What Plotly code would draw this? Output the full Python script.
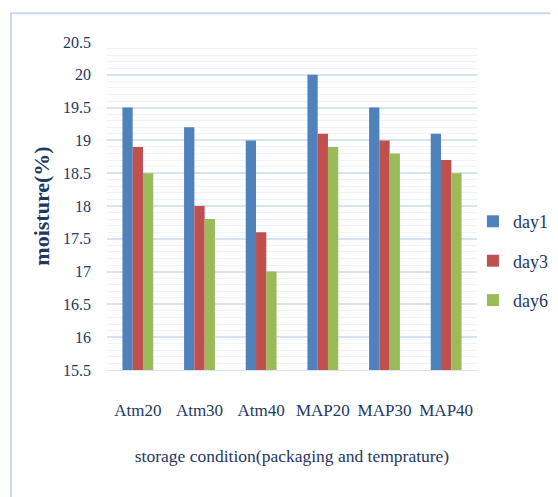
import plotly.graph_objects as go

categories = ["Atm20", "Atm30", "Atm40", "MAP20", "MAP30", "MAP40"]
day1 = [19.5, 19.2, 19.0, 20.0, 19.5, 19.1]
day3 = [18.9, 18.0, 17.6, 19.1, 19.0, 18.7]
day6 = [18.5, 17.8, 17.0, 18.9, 18.8, 18.5]
series_names = ["day1", "day3", "day6"]
colors = ["#4F81BD", "#C0504D", "#9BBB59"]
y_ticks = [15.5, 16, 16.5, 17, 17.5, 18, 18.5, 19, 19.5, 20, 20.5]

font_color = "#1F3864"
serif = "Liberation Serif, Times New Roman, serif"

fig = go.Figure()
base = y_ticks[0]
for i, (name, vals) in enumerate(zip(series_names, [day1, day3, day6])):
    fig.add_trace(go.Bar(
        x=categories,
        y=[v - base for v in vals],
        base=base,
        name=name,
        legendgroup=name,
        marker=dict(color=colors[i], line=dict(width=0)),
        hovertemplate="%{x}: %{customdata}<extra>" + name + "</extra>",
        customdata=vals,
    ))

fig.update_layout(
    width=558, height=497,
    margin=dict(l=99, r=89, t=34, b=135, autoexpand=False),
    paper_bgcolor="white",
    plot_bgcolor="white",
    barmode="group",
    bargap=0.5,
    bargroupgap=0,
    font=dict(family=serif, color=font_color, size=16),
    showlegend=True,
    legend=dict(
        x=0.989, y=0.332, xanchor="left", yanchor="middle",
        font=dict(family=serif, size=18, color=font_color),
        tracegroupgap=13,
        itemwidth=30,
        bgcolor="rgba(0,0,0,0)",
    ),
    xaxis=dict(
        showgrid=False,
        showline=True, linecolor="#D9E4F2", linewidth=1,
        ticks="",
        ticklabelstandoff=25,
        tickfont=dict(family=serif, size=17, color=font_color),
        title=dict(text="storage condition(packaging and temprature)",
                   font=dict(family=serif, size=17.5, color=font_color),
                   standoff=30),
    ),
    yaxis=dict(
        range=[15.5, 20.5],
        tickvals=y_ticks,
        ticktext=[f"{t:g}" for t in y_ticks],
        showgrid=True, gridcolor="#D6E3F3", gridwidth=1.5,
        minor=dict(dtick=0.1, showgrid=True, gridcolor="#EEF3FA", gridwidth=1),
        zeroline=False,
        ticks="",
        ticklabelstandoff=15,
        tickfont=dict(family=serif, size=16, color=font_color),
        title=dict(text="<b>moisture(%)</b>",
                   font=dict(family=serif, size=22, color=font_color),
                   standoff=7),
    ),
    shapes=[dict(
        type="rect", xref="paper", yref="paper",
        x0=-0.2595, x1=1.3, y0=-0.5, y1=1.088,
        line=dict(color="#C9DAF0", width=2),
        fillcolor="rgba(0,0,0,0)",
        layer="below",
    )],
)

fig.write_html("out.html")
